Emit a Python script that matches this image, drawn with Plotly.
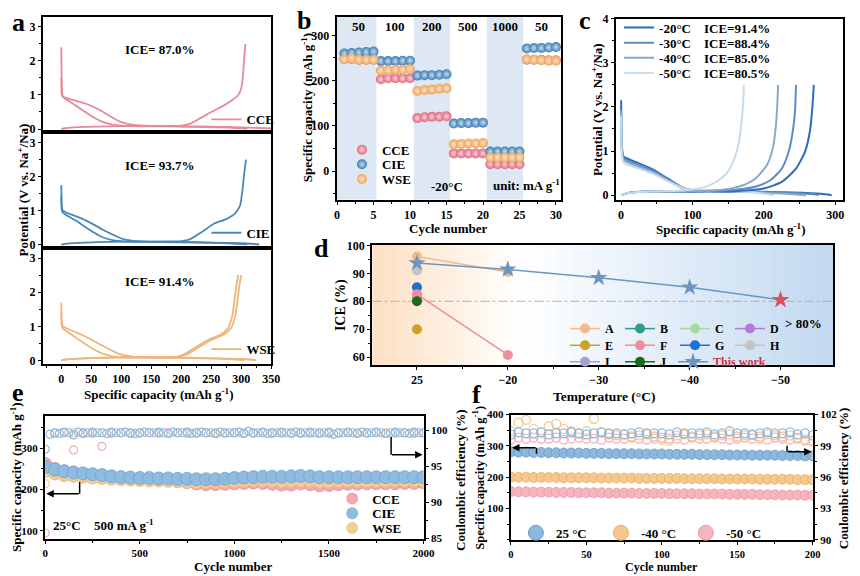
import plotly.graph_objects as go

W, H = 860, 576
def fx(p): return p / W
def fy(p): return 1 - p / H

FONT = "Liberation Serif"
CCE_C, CIE_C, WSE_C = "#e8899a", "#4a88b8", "#f0b47a"

# ---------------- panel a : charge / discharge profiles ----------------
a_cce_d1_x = [0, 0.5, 1.5, 3, 10, 25, 40, 55, 70, 85, 100, 120, 150, 200, 250, 300, 350]
a_cce_d1_y = [2.4, 1.6, 1.05, 0.95, 0.9, 0.83, 0.75, 0.64, 0.5, 0.34, 0.2, 0.12, 0.09, 0.08, 0.07, 0.05, 0.02]
a_cce_d2_x = [0, 0.5, 2, 10, 25, 40, 55, 70, 85, 100, 130, 200, 280, 310]
a_cce_d2_y = [1.5, 1.05, 0.95, 0.85, 0.68, 0.5, 0.33, 0.2, 0.13, 0.1, 0.08, 0.07, 0.04, 0.01]
a_cce_c_x = [0, 10, 40, 80, 120, 160, 200, 215, 230, 250, 270, 285, 295, 300, 303, 305, 307]
a_cce_c_y = [0.0, 0.03, 0.06, 0.08, 0.09, 0.09, 0.1, 0.16, 0.3, 0.5, 0.68, 0.85, 1.0, 1.2, 1.6, 2.1, 2.5]

a_cie_d1_x = [0, 0.5, 1.5, 3, 10, 25, 40, 55, 70, 85, 100, 120, 150, 200, 250, 300, 330]
a_cie_d1_y = [1.75, 1.3, 1.05, 1.0, 0.93, 0.83, 0.72, 0.58, 0.43, 0.3, 0.18, 0.11, 0.09, 0.08, 0.06, 0.04, 0.01]
a_cie_d2_x = [0, 0.5, 2, 10, 25, 40, 55, 70, 85, 100, 130, 200, 280, 310]
a_cie_d2_y = [1.45, 1.05, 0.95, 0.85, 0.7, 0.52, 0.35, 0.21, 0.13, 0.1, 0.08, 0.07, 0.04, 0.01]
a_cie_c_x = [0, 10, 40, 80, 120, 160, 200, 215, 235, 255, 275, 290, 298, 302, 305, 308]
a_cie_c_y = [0.0, 0.03, 0.06, 0.08, 0.09, 0.09, 0.1, 0.16, 0.38, 0.62, 0.75, 0.92, 1.15, 1.6, 2.1, 2.5]

a_wse_d1_x = [0, 0.5, 1.5, 3, 10, 25, 40, 55, 70, 85, 100, 120, 150, 200, 250, 300, 325]
a_wse_d1_y = [1.7, 1.25, 1.05, 1.0, 0.93, 0.82, 0.7, 0.56, 0.42, 0.28, 0.17, 0.11, 0.09, 0.08, 0.06, 0.04, 0.01]
a_wse_d2_x = [0, 0.5, 2, 10, 25, 40, 55, 70, 85, 100, 130, 200, 280, 305]
a_wse_d2_y = [1.4, 1.05, 0.95, 0.84, 0.66, 0.48, 0.31, 0.19, 0.12, 0.09, 0.08, 0.07, 0.04, 0.01]
a_wse_c1_x = [0, 10, 40, 80, 120, 160, 195, 210, 230, 250, 270, 283, 290, 294, 297, 300]
a_wse_c1_y = [0.0, 0.03, 0.06, 0.08, 0.09, 0.09, 0.1, 0.18, 0.4, 0.6, 0.75, 0.95, 1.3, 1.8, 2.2, 2.5]
a_wse_c2_x = [0, 10, 40, 80, 120, 160, 190, 205, 225, 245, 265, 278, 285, 289, 292, 295]
a_wse_c2_y = [0.0, 0.03, 0.06, 0.08, 0.09, 0.09, 0.1, 0.18, 0.4, 0.6, 0.75, 0.95, 1.3, 1.8, 2.2, 2.5]

a_ice = ["ICE= 87.0%", "ICE= 93.7%", "ICE= 91.4%"]

# ---------------- panel b : rate capability ----------------
b_cycle = list(range(1, 31))
b_cce = [247, 248, 246, 246, 246, 203, 205, 205, 205, 205, 117, 119, 120, 120, 121,
         39, 39, 39, 39, 39, 15, 15, 15, 15, 15, 246, 246, 246, 245, 245]
b_cie = [260, 261, 262, 263, 264, 243, 243, 243, 244, 244, 211, 212, 212, 213, 214,
         105, 106, 106, 107, 107, 43, 43, 43, 43, 43, 271, 272, 272, 273, 274]
b_wse = [247, 249, 246, 246, 246, 222, 223, 224, 224, 225, 177, 179, 180, 182, 183,
         59, 60, 61, 61, 62, 30, 30, 30, 30, 30, 247, 246, 245, 244, 244]
b_rates = ["50", "100", "200", "500", "1000", "50"]
b_rate_pos = [3, 8, 13, 18, 23, 28]
b_bands = [(-1, 5.4), (10.5, 15.5), (20.5, 25.5)]

# ---------------- panel c : low temperature profiles ----------------
c_labels = ["-20°C", "-30°C", "-40°C", "-50°C"]
c_ice = ["ICE=91.4%", "ICE=88.4%", "ICE=85.0%", "ICE=80.5%"]
c_colors = ["#2c6bbd", "#5a8cc4", "#89a9c6", "#c8dbea"]
c_dis_x = [
    [0, 1, 3, 10, 25, 45, 65, 85, 100, 130, 180, 240, 280, 295],
    [0, 1, 3, 10, 25, 45, 65, 85, 100, 130, 180, 240, 270, 277],
    [0, 1, 3, 10, 25, 45, 65, 85, 100, 130, 180, 230, 259],
    [0, 1, 3, 10, 25, 45, 65, 85, 100, 130, 180, 214],
]
c_dis_y = [
    [2.15, 1.2, 0.88, 0.82, 0.72, 0.58, 0.38, 0.18, 0.11, 0.09, 0.08, 0.06, 0.03, 0.0],
    [1.95, 1.1, 0.84, 0.78, 0.68, 0.55, 0.36, 0.17, 0.11, 0.09, 0.08, 0.05, 0.02, 0.0],
    [1.9, 1.0, 0.8, 0.74, 0.64, 0.52, 0.34, 0.16, 0.11, 0.09, 0.07, 0.03, 0.0],
    [1.8, 0.95, 0.75, 0.68, 0.6, 0.48, 0.32, 0.17, 0.12, 0.1, 0.07, 0.0],
]
c_chg_x = [
    [0, 10, 40, 80, 120, 160, 200, 225, 245, 258, 265, 268, 270],
    [0, 10, 40, 80, 120, 160, 190, 210, 225, 235, 241, 244, 245],
    [0, 10, 40, 80, 120, 150, 175, 190, 205, 213, 217, 219, 220],
    [0, 10, 40, 80, 100, 120, 135, 148, 158, 165, 169, 171, 172],
]
c_chg_y = [
    [0.0, 0.05, 0.08, 0.08, 0.08, 0.09, 0.15, 0.3, 0.6, 1.0, 1.5, 2.0, 2.5],
    [0.0, 0.05, 0.08, 0.08, 0.09, 0.12, 0.2, 0.35, 0.6, 1.0, 1.5, 2.0, 2.5],
    [0.0, 0.05, 0.08, 0.09, 0.1, 0.14, 0.25, 0.4, 0.7, 1.1, 1.6, 2.1, 2.5],
    [0.0, 0.05, 0.08, 0.1, 0.13, 0.2, 0.32, 0.5, 0.8, 1.2, 1.7, 2.1, 2.5],
]

# ---------------- panel d : ICE comparison ----------------
d_temps = ["25", "\u221220", "\u221230", "\u221240", "\u221250"]
d_refs = ["A", "B", "C", "D", "E", "F", "G", "H", "I", "J"]
d_ref_x = [[0, 1], [0], [0], [0], [0], [0, 1], [0], [0], [0], [0]]
d_ref_y = [[96, 90.5], [81], [81.5], [82], [70], [82.5, 60.8], [85], [91], [82], [80]]
d_ref_col = ["#f6b98a", "#2a9d8f", "#a6d9a0", "#b57ad9", "#c9a227",
             "#f08c9c", "#1f6fd6", "#c4c4c4", "#a3a3cf", "#1b6b1b"]
d_draw_order = [1, 2, 3, 8, 4, 0, 6, 5, 9, 7]
d_this_x = [0, 1, 2, 3, 4]
d_this_y = [93.7, 91.4, 88.4, 85.0, 80.5]

# ---------------- panel e : long cycling 25 °C ----------------
e_cycle = [0, 50, 100, 150, 200, 250, 300, 350, 400, 450, 500, 550, 600, 650, 700, 750, 800,
           850, 900, 950, 1000, 1050, 1100, 1150, 1200, 1250, 1300, 1350, 1400, 1450, 1500,
           1550, 1600, 1650, 1700, 1750, 1800, 1850, 1900, 1950, 2000]
e_cce = [262, 250, 244, 241, 238, 236, 234, 231, 229, 228, 227, 226, 225, 224, 221, 218, 215,
         213, 213, 214, 215, 216, 217, 216, 214, 212, 212, 215, 213, 210, 211, 213, 214, 214,
         215, 215, 215, 215, 216, 216, 217]
e_cie = [255, 248, 244, 241, 239, 237, 235, 232, 230, 229, 228, 228, 227, 227, 226, 226, 225,
         225, 225, 226, 228, 229, 230, 231, 231, 231, 232, 233, 232, 230, 230, 230, 230, 230,
         230, 230, 230, 230, 230, 230, 230]
e_wse = [245, 239, 235, 233, 231, 229, 228, 226, 225, 224, 223, 222, 222, 221, 220, 219, 218,
         218, 218, 219, 220, 221, 222, 222, 221, 220, 220, 222, 221, 219, 219, 220, 221, 221,
         221, 221, 221, 222, 222, 222, 222]
e_ce_cce = [85.7, 99.6, 99.7, 97.3, 99.7, 99.6, 97.8, 99.7, 99.7, 99.6, 99.7, 99.7, 99.6, 99.7,
            99.7, 99.6, 99.7, 99.7, 99.6, 99.7, 99.7, 99.6, 99.7, 99.7, 99.6, 99.7, 99.7, 99.6,
            99.7, 99.7, 99.6, 99.7, 99.7, 99.6, 99.7, 99.7, 99.6, 99.7, 99.7, 99.6, 99.7]
e_ce_wse = [92.6, 99.6, 99.7, 99.7, 99.6, 99.7, 99.7, 99.6, 99.7, 99.7, 99.6, 99.7, 99.7, 99.6,
            99.7, 99.7, 99.6, 99.7, 99.7, 99.6, 99.7, 99.7, 99.6, 99.7, 99.7, 99.6, 99.7, 99.7,
            99.6, 99.7, 99.7, 99.6, 99.7, 99.7, 99.6, 99.7, 99.7, 99.6, 99.7, 99.7, 99.6]
e_cycle_ce = [0, 25, 50, 75, 100, 125, 150, 175, 200, 225, 250, 275, 300, 325, 350, 375, 400,
              425, 450, 475, 500, 525, 550, 575, 600, 625, 650, 675, 700, 725, 750, 775, 800,
              825, 850, 875, 900, 925, 950, 975, 1000, 1025, 1050, 1075, 1100, 1125, 1150, 1175,
              1200, 1225, 1250, 1275, 1300, 1325, 1350, 1375, 1400, 1425, 1450, 1475, 1500, 1525,
              1550, 1575, 1600, 1625, 1650, 1675, 1700, 1725, 1750, 1775, 1800, 1825, 1850, 1875,
              1900, 1925, 1950, 1975, 2000]
e_ce_cie = [97.4, 99.5, 99.7, 99.6, 99.8, 99.7, 99.4, 99.8, 99.6, 99.7, 99.8, 99.7, 99.7, 99.6,
            99.8, 99.7, 99.7, 99.8, 99.7, 99.6, 99.7, 99.8, 99.7, 99.7, 99.8, 99.7, 99.6, 99.8,
            99.7, 99.7, 99.8, 99.6, 99.7, 99.8, 99.7, 99.7, 99.6, 99.8, 99.7, 99.7, 99.7, 99.8,
            99.6, 99.9, 99.7, 99.7, 99.8, 99.6, 99.7, 99.7, 99.8, 99.7, 99.6, 99.8, 99.7, 99.7,
            99.8, 99.7, 99.6, 99.7, 99.8, 99.5, 99.7, 99.7, 99.8, 99.7, 99.6, 99.8, 99.7, 99.7,
            99.8, 99.7, 99.6, 99.7, 99.8, 99.7, 99.7, 99.6, 99.8, 99.7, 99.7]

# ---------------- panel f : cycling at various temperatures ----------------
f_cycle = [0, 5, 10, 15, 20, 25, 30, 35, 40, 45, 50, 55, 60, 65, 70, 75, 80, 85, 90, 95, 100,
           105, 110, 115, 120, 125, 130, 135, 140, 145, 150, 155, 160, 165, 170, 175, 180, 185,
           190, 195, 200]
f_cap_25 = [281, 280, 280, 279, 279, 278, 278, 277, 277, 277, 276, 276, 276, 275, 275, 275, 275,
            274, 274, 274, 274, 273, 273, 273, 273, 272, 272, 272, 272, 271, 271, 271, 270, 270,
            270, 270, 269, 269, 269, 268, 268]
f_cap_m40 = [200, 200, 200, 199, 199, 199, 199, 198, 198, 198, 198, 198, 197, 197, 197, 197, 197,
             196, 196, 196, 196, 196, 196, 195, 195, 195, 195, 195, 194, 194, 194, 194, 194, 193,
             193, 193, 193, 193, 192, 192, 192]
f_cap_m50 = [154, 153, 153, 152, 152, 152, 151, 151, 151, 150, 150, 150, 150, 149, 149, 149, 149,
             148, 148, 148, 148, 147, 147, 147, 147, 146, 146, 146, 146, 145, 145, 145, 145, 144,
             144, 144, 143, 143, 143, 142, 142]
f_ce_25 = [100.1, 100.3, 100.2, 100.2, 100.3, 100.1, 100.2, 100.2, 100.3, 100.2, 100.1, 100.2,
           100.3, 100.2, 100.2, 100.1, 100.2, 100.3, 100.2, 100.2, 100.2, 100.1, 100.3, 100.2,
           100.2, 100.2, 100.3, 100.1, 100.2, 100.4, 100.2, 100.2, 100.1, 100.2, 100.3, 100.2,
           100.2, 100.3, 100.1, 100.2, 100.0]
f_ce_m40 = [100.4, 101.2, 101.5, 100.6, 100.3, 100.9, 101.1, 100.6, 100.4, 100.2, 100.4, 101.6,
            100.3, 100.1, 100.0, 100.1, 99.9, 100.0, 100.1, 99.9, 99.6, 99.5, 100.0, 100.1,
            99.9, 100.0, 100.1, 99.9, 100.0, 100.1, 99.9, 100.0, 100.0, 99.9, 100.1, 100.0,
            99.9, 100.0, 99.8, 99.5, 99.4]
f_ce_m50 = [99.6, 99.8, 99.7, 99.8, 99.7, 99.7, 99.8, 99.6, 99.7, 99.8, 99.7, 99.7, 99.6, 99.8,
            99.7, 99.7, 99.8, 99.7, 99.6, 99.7, 99.8, 99.7, 99.7, 99.6, 99.8, 99.7, 99.7, 99.8,
            99.7, 99.6, 99.7, 99.8, 99.7, 99.7, 99.6, 99.8, 99.7, 99.6, 99.7, 99.6, 99.5]
f_labels = ["25 \u00b0C", "-40 \u00b0C", "-50 \u00b0C"]
f_cols = ["#8db7dc", "#f4c88e", "#f5b5bd"]
f_edge = ["#6a9cc9", "#e8ad63", "#eb99a4"]

# =====================================================================
fig = go.Figure()
legends = {}
_lg_count = [0]

def new_legend(x, y, yanchor="middle", size=13, **kw):
    _lg_count[0] += 1
    key = "legend" if _lg_count[0] == 1 else "legend%d" % _lg_count[0]
    d = dict(x=fx(x), y=fy(y), xanchor="left", yanchor=yanchor, bgcolor="rgba(0,0,0,0)",
             font=dict(size=size), itemwidth=30, tracegroupgap=0, borderwidth=0)
    d.update(kw)
    legends[key] = d
    return key

def line(x, y, color, xa, ya, name=None, legend=None, width=1.8, show=False):
    return go.Scatter(x=x, y=y, mode="lines", line=dict(color=color, width=width, shape="spline",
                      smoothing=0.6), name=name, legend=legend, showlegend=show,
                      xaxis=xa, yaxis=ya, hoverinfo="skip")

# panel a
a_sets = [
    ("CCE", CCE_C, "x", "y", 115, [(a_cce_d1_x, a_cce_d1_y), (a_cce_d2_x, a_cce_d2_y), (a_cce_c_x, a_cce_c_y)]),
    ("CIE", CIE_C, "x2", "y2", 231, [(a_cie_d1_x, a_cie_d1_y), (a_cie_d2_x, a_cie_d2_y), (a_cie_c_x, a_cie_c_y)]),
    ("WSE", WSE_C, "x3", "y3", 350, [(a_wse_d1_x, a_wse_d1_y), (a_wse_d2_x, a_wse_d2_y),
                                     (a_wse_c1_x, a_wse_c1_y), (a_wse_c2_x, a_wse_c2_y)]),
]
for name, col, xa, ya, ly, curves in a_sets:
    lg = new_legend(207, ly)
    for i, (cx, cy) in enumerate(curves):
        fig.add_trace(line(cx, cy, col, xa, ya, name=name, legend=lg, show=(i == 0)))

# panel b
for k, (name, vals, col, grad) in enumerate([("CCE", b_cce, "#e06a80", "#fbd3da"),
                                             ("CIE", b_cie, "#3f7fb5", "#c6dcf0"),
                                             ("WSE", b_wse, "#eda560", "#fde3c6")]):
    lg = new_legend(345, [146, 161, 176][k])
    fig.add_trace(go.Scatter(x=b_cycle, y=vals, mode="markers", name=name, legend=lg,
                             marker=dict(size=10, color=col, gradient=dict(type="radial", color=grad),
                                         line=dict(width=0)),
                             xaxis="x4", yaxis="y4", hoverinfo="skip"))

# panel c
for i in range(4):
    fig.add_trace(line(c_dis_x[i], c_dis_y[i], c_colors[i], "x5", "y5", width=2))
for i in range(4):
    lg = new_legend(627, [21, 36.5, 52, 67.5][i])
    fig.add_trace(line(c_chg_x[i], c_chg_y[i], c_colors[i], "x5", "y5", width=2,
                       name=c_labels[i] + "\u00a0\u00a0\u00a0\u00a0" + c_ice[i], legend=lg, show=True))

# panel d (legend rows arranged as 4 columns)
d_rows = [new_legend(572, 329, size=12, orientation="h", entrywidth=10),
          new_legend(572, 346, size=12, orientation="h", entrywidth=10),
          new_legend(572, 363, size=12, orientation="h", entrywidth=10)]
d_this_lg = new_legend(572 + 2 * 55, 363, size=12)
for i in d_draw_order:
    lg = d_rows[i // 4]
    fig.add_trace(go.Scatter(x=d_ref_x[i], y=d_ref_y[i], mode="lines+markers", name=d_refs[i], legend=lg,
                             legendrank=i, line=dict(color=d_ref_col[i], width=1.5),
                             marker=dict(size=10, color=d_ref_col[i]),
                             xaxis="x6", yaxis="y6", hoverinfo="skip"))
fig.add_trace(go.Scatter(x=d_this_x, y=d_this_y, mode="lines+markers",
                         name="<span style='color:#d8303f'>This work</span>", legend=d_this_lg,
                         line=dict(color="#6b95c2", width=1.5),
                         marker=dict(symbol="star", size=13, color="#6b95c2"),
                         xaxis="x6", yaxis="y6", hoverinfo="skip"))
fig.add_trace(go.Scatter(x=d_this_x[-1:], y=d_this_y[-1:], mode="markers", showlegend=False,
                         marker=dict(symbol="star", size=13, color="#e0505a"),
                         xaxis="x6", yaxis="y6", hoverinfo="skip"))

# panel e
e_fill = {"CCE": "#f3a9b5", "CIE": "#8fbbe0", "WSE": "#f5cb98"}
e_line = {"CCE": "#e88e9c", "CIE": "#6ea3d1", "WSE": "#eab77a"}
for name, vals in [("CCE", e_cce), ("WSE", e_wse), ("CIE", e_cie)]:
    fig.add_trace(go.Scatter(x=e_cycle, y=vals, mode="markers", showlegend=False,
                             marker=dict(size=13, color=e_fill[name], line=dict(width=0.8, color=e_line[name])),
                             xaxis="x7", yaxis="y7", hoverinfo="skip"))
for name, xs, vals in [("CCE", e_cycle, e_ce_cce), ("WSE", e_cycle, e_ce_wse), ("CIE", e_cycle_ce, e_ce_cie)]:
    fig.add_trace(go.Scatter(x=xs, y=vals, mode="markers", showlegend=False,
                             marker=dict(size=8, color="rgba(255,255,255,0)",
                                         line=dict(width=1.2, color=e_fill[name])),
                             xaxis="x7", yaxis="y8", hoverinfo="skip"))
for k, name in enumerate(["CCE", "CIE", "WSE"]):
    lg = new_legend(335, [503, 518, 533][k])
    fig.add_trace(go.Scatter(x=[None], y=[None], mode="markers", name=name, legend=lg,
                             marker=dict(size=12, color=e_fill[name]), xaxis="x7", yaxis="y7"))

# panel f
for i, vals in enumerate([f_cap_25, f_cap_m40, f_cap_m50]):
    fig.add_trace(go.Scatter(x=f_cycle, y=vals, mode="markers", showlegend=False,
                             marker=dict(size=10, color=f_cols[i], line=dict(width=0.8, color=f_edge[i])),
                             xaxis="x8", yaxis="y9", hoverinfo="skip"))
for i, vals in enumerate([f_ce_m50, f_ce_m40, f_ce_25]):
    j = [2, 1, 0][i]
    fig.add_trace(go.Scatter(x=f_cycle, y=vals, mode="markers", showlegend=False,
                             marker=dict(size=9, color="rgba(255,255,255,0)",
                                         line=dict(width=1.3, color=f_cols[j])),
                             xaxis="x8", yaxis="y10", hoverinfo="skip"))
f_lg = new_legend(522, 538, orientation="h", entrywidth=40)
for i in range(3):
    fig.add_trace(go.Scatter(x=[None], y=[None], mode="markers", name=f_labels[i], legend=f_lg,
                             marker=dict(size=15, color=f_cols[i], line=dict(width=1, color=f_edge[i])),
                             xaxis="x8", yaxis="y9"))

# =====================================================================
def ax(size=12, **kw):
    base = dict(showline=True, linewidth=1.6, linecolor="black", mirror=True, ticks="outside",
                ticklen=3.5, tickwidth=1.3, tickcolor="black", showgrid=False, zeroline=False,
                tickfont=dict(size=size))
    base.update(kw)
    return base

def minor(d=None, vals=None):
    m = dict(ticks="outside", ticklen=2.2, tickcolor="black", tickwidth=1, showgrid=False)
    if d is not None:
        m["dtick"] = d
    if vals is not None:
        m["tickvals"] = vals
    return m

a_top = [10, 128.3, 246.6, 365]
layout = dict(
    width=W, height=H, margin=dict(l=0, r=0, t=0, b=0),
    paper_bgcolor="white", plot_bgcolor="white",
    font=dict(family=FONT, size=12, color="black", weight="bold"),
)
for k in range(3):
    xs = "" if k == 0 else str(k + 1)
    last = (k == 2)
    layout["xaxis" + xs] = ax(domain=[fx(41), fx(273)], anchor="y" + xs, range=[-30, 350],
                              showticklabels=last, ticks="outside" if last else "",
                              tickvals=[0, 50, 100, 150, 200, 250, 300, 350],
                              minor=minor(25) if last else None)
    layout["yaxis" + xs] = ax(domain=[fy(a_top[k + 1]), fy(a_top[k])], anchor="x" + xs,
                              range=[-0.1, 3.3], tickvals=[0, 1, 2, 3], minor=minor(0.5))
layout["xaxis4"] = ax(domain=[fx(340), fx(568)], anchor="y4", range=[0, 30.7],
                      tickvals=[0, 5, 10, 15, 20, 25, 30], minor=minor(2.5))
layout["yaxis4"] = ax(domain=[fy(197), fy(10)], anchor="x4", range=[-63, 341],
                      tickvals=[0, 100, 200, 300], minor=minor(50))
layout["xaxis5"] = ax(domain=[fx(624), fx(855)], anchor="y5", range=[-7, 311],
                      tickvals=[0, 100, 200, 300], minor=minor(50))
layout["yaxis5"] = ax(domain=[fy(197), fy(12)], anchor="x5", range=[-0.1, 4.0],
                      tickvals=[0, 1, 2, 3, 4], minor=minor(0.5))
layout["xaxis6"] = ax(domain=[fx(376), fx(845)], anchor="y6", range=[-0.49, 4.58],
                      tickvals=[0, 1, 2, 3, 4], ticktext=d_temps, minor=minor(vals=[0.5, 1.5, 2.5, 3.5]))
layout["yaxis6"] = ax(domain=[fy(366), fy(243)], anchor="x6", range=[57.3, 100.3],
                      tickvals=[60, 70, 80, 90, 100], minor=minor(5))
layout["xaxis7"] = ax(11, domain=[fx(43), fx(428)], anchor="y7", range=[0, 2000],
                      tickvals=[0, 500, 1000, 1500, 2000], minor=minor(250))
layout["yaxis7"] = ax(11, domain=[fy(544), fy(418)], anchor="x7", range=[81, 379],
                      tickvals=[100, 200, 300], minor=minor(50))
layout["yaxis8"] = ax(11, overlaying="y7", anchor="x7", side="right", range=[84.9, 102.1],
                      tickvals=[85, 90, 95, 100], minor=minor(2.5), mirror=False)
layout["xaxis8"] = ax(10.5, domain=[fx(517), fx(824)], anchor="y9", range=[0, 200],
                      tickvals=[0, 50, 100, 150, 200], minor=minor(25))
layout["yaxis9"] = ax(11, domain=[fy(545), fy(417)], anchor="x8", range=[0, 400],
                      tickvals=[100, 200, 300, 400], minor=minor(50))
layout["yaxis10"] = ax(11, overlaying="y9", anchor="x8", side="right", range=[90, 102],
                       tickvals=[90, 93, 96, 99, 102], minor=minor(1.5), mirror=False)
layout.update(legends)

shapes = []
for x0, x1 in b_bands:
    shapes.append(dict(type="rect", xref="x4", yref="y4 domain", x0=x0, x1=x1, y0=0, y1=1,
                       fillcolor="#dde8f4", line=dict(width=0), layer="below"))
N = 60
for i in range(N):
    t = (i + 0.5) / N
    if t < 0.32:
        u = t / 0.32
        c0, c1 = (252, 224, 194), (255, 255, 255)
    else:
        u = (t - 0.32) / 0.68
        c0, c1 = (255, 255, 255), (194, 217, 240)
    rgb = tuple(int(round(c0[k] + (c1[k] - c0[k]) * u)) for k in range(3))
    shapes.append(dict(type="rect", xref="x6 domain", yref="y6 domain", x0=i / N, x1=(i + 1) / N + 0.002,
                       y0=0, y1=1, fillcolor="rgb(%d,%d,%d)" % rgb, line=dict(width=0), layer="below"))
shapes.append(dict(type="line", xref="x6 domain", yref="y6", x0=0, x1=1, y0=80, y1=80,
                   line=dict(color="#b0b0b0", width=1, dash="dashdot"), layer="below"))
for (xa, ya, xb, yb) in [(78, 486, 78, 498), (395, 440, 395, 458), (543, 451, 543, 457), (798, 449, 798, 455)]:
    shapes.append(dict(type="line", xref="paper", yref="paper", x0=fx(xa), y0=fy(ya), x1=fx(xb), y1=fy(yb),
                       line=dict(color="black", width=1.5)))
layout["shapes"] = shapes

def ann(x, y, text, size=13, angle=0, **kw):
    d = dict(x=fx(x), y=fy(y), xref="paper", yref="paper", text=text, showarrow=False,
             font=dict(size=size), textangle=angle, xanchor="center", yanchor="middle")
    d.update(kw)
    return d

def arrow(xt, yt, dx):
    return dict(x=fx(xt), y=fy(yt), xref="paper", yref="paper", ax=dx, ay=0, axref="pixel", ayref="pixel",
                text="", showarrow=True, arrowhead=2, arrowsize=1, arrowwidth=1.5, arrowcolor="black")

cap_title = "Specific capacity (mAh g<sup>-1</sup>)"
pot_title = "Potential (V vs. Na<sup>+</sup>/Na)"
anns = [
    ann(16, 16, "a", 26), ann(306, 14, "b", 26), ann(592, 14, "c", 26),
    ann(324, 247, "d", 26), ann(15, 394, "e", 26), ann(482, 396, "f", 26),
    ann(20, 187, pot_title, 13, -90), ann(158, 396, cap_title, 13),
    ann(309, 103, cap_title, 13, -90), ann(453, 227, "Cycle number", 13),
    ann(604, 105, pot_title, 13, -90), ann(740, 227, cap_title, 13),
    ann(344, 305, "ICE (%)", 14, -90), ann(612, 398, "Temperature (\u00b0C)", 13.5),
    ann(13, 481, cap_title, 13, -90), ann(465, 484, "Coulombic efficiency (%)", 13, -90),
    ann(235, 572, "Cycle number", 13),
    ann(484, 482, cap_title, 12.5, -90), ann(855, 482, "Coulombic efficiency (%)", 13, -90),
    ann(670, 573, "Cycle number", 12),
    ann(65, 530, "25\u00b0C", 13), ann(123, 530, "500 mA g<sup>-1</sup>", 13),
    ann(815, 324, "> 80%", 13),
    arrow(44, 498, 34), arrow(427, 458, -32), arrow(518, 451, 25), arrow(823, 455, -25),
]
for k, t in enumerate(a_ice):
    xs = "" if k == 0 else str(k + 1)
    anns.append(dict(x=164, y=2.33, xref="x" + xs, yref="y" + xs, text=t, showarrow=False,
                     font=dict(size=13)))
for p, t in zip(b_rate_pos, b_rates):
    anns.append(dict(x=p, y=320, xref="x4", yref="y4", text=t, showarrow=False, font=dict(size=13)))
anns.append(dict(x=15, y=-35, xref="x4", yref="y4", text="-20\u00b0C", showarrow=False, font=dict(size=13)))
anns.append(dict(x=26, y=-31, xref="x4", yref="y4", text="unit: mA g<sup>-1</sup>", showarrow=False,
                 font=dict(size=13)))
layout["annotations"] = anns

fig.update_layout(**layout)
fig.write_html("out.html")
